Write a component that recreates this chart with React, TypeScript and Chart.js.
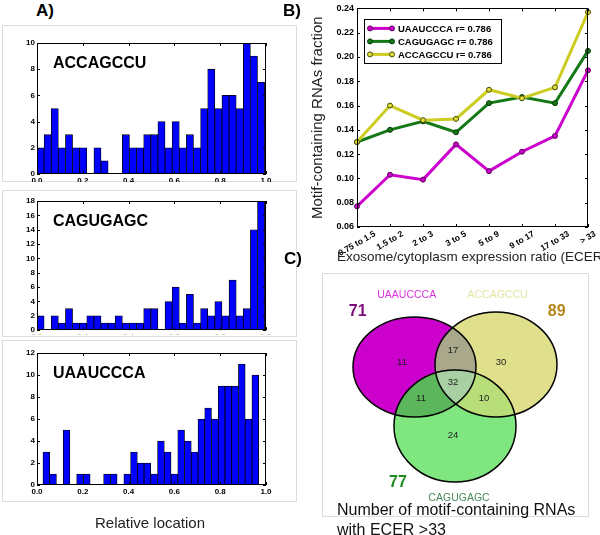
import React, { useEffect, useRef } from 'react';
import { Chart, registerables } from 'chart.js';

Chart.register(...registerables);

const FONT = '"Liberation Sans", Arial, Helvetica, sans-serif';
Chart.defaults.font.family = FONT;

// ---------------- Panel A: relative-location histograms ----------------
const histTitles = ['ACCAGCCU', 'CAGUGAGC', 'UAAUCCCA'];
const accagccuCounts = [2, 3, 5, 2, 3, 2, 2, 0, 2, 1, 0, 0, 3, 2, 2, 3, 3, 4, 2, 4, 2, 3, 2, 5, 8, 5, 6, 6, 5, 10, 9, 7];
const cagugagcCounts = [2, 0, 2, 1, 3, 1, 1, 2, 2, 1, 1, 2, 1, 1, 1, 3, 3, 0, 4, 6, 1, 5, 1, 3, 2, 4, 2, 7, 2, 3, 14, 18];
const uaaucccaCounts = [3, 1, 0, 5, 0, 1, 1, 0, 0, 1, 1, 0, 1, 3, 2, 2, 1, 4, 3, 1, 5, 4, 3, 6, 7, 6, 9, 9, 9, 11, 6, 10];
const accagccuBinRange = [0.0, 0.994];
const cagugagcBinRange = [0.0, 0.994];
const uaaucccaBinRange = [0.026, 0.968];
const histYMax = [10, 18, 12];
const histYStep = 2;
const relLocationRange = [0, 1];
const relLocationStep = 0.2;

// ---------------- Panel B: motif fraction vs ECER ----------------
const ecerCategories = ['0.75 to 1.5', '1.5 to 2', '2 to 3', '3 to 5', '5 to 9', '9 to 17', '17 to 33', '> 33'];
const seriesNames = ['UAAUCCCA', 'CAGUGAGC', 'ACCAGCCU'];
const uaaucccaFraction = [0.077, 0.103, 0.099, 0.128, 0.106, 0.122, 0.135, 0.189];
const cagugagcFraction = [0.130, 0.140, 0.147, 0.138, 0.162, 0.167, 0.162, 0.205];
const accagccuFraction = [0.130, 0.160, 0.148, 0.149, 0.173, 0.166, 0.175, 0.237];
const correlationR = ['0.786', '0.786', '0.786'];
const fractionRange = [0.06, 0.24];
const fractionStep = 0.02;
const xAxisTitle = 'Exosome/cytoplasm expression ratio (ECER)';
const yAxisTitle = 'Motif-containing RNAs fraction';

// ---------------- Panel C: Venn diagram ----------------
const vennSetNames = ['UAAUCCCA', 'ACCAGCCU', 'CAGUGAGC'];
const vennSetTotals = [71, 89, 77];
// regions: M only, Y only, G only, M&Y, M&G, Y&G, M&Y&G
const vennRegionCounts = [11, 30, 24, 17, 11, 10, 32];

// ---------------- styles / layout ----------------
const lineStyles = [
  { color: '#cc00cc', point: '#cc00cc', edge: '#5a005a' },
  { color: '#157a15', point: '#157a15', edge: '#083808' },
  { color: '#cccc22', point: '#dede3a', edge: '#4a4a00' },
];
const vennEllipses = [
  { cx: 92.5, cy: 94, rx: 61.5, ry: 50 },
  { cx: 174, cy: 91.5, rx: 61, ry: 52.5 },
  { cx: 133, cy: 153, rx: 61, ry: 56 },
];
const vennFill = { m: '#cc00cc', y: '#e0df8c', g: '#80e680', my: '#aaa88a', mg: '#5cb65c', yg: '#b8de7a', myg: '#a8d0a2' };
const vennRegionPos = [[80, 89], [179, 89], [131, 162], [131, 77], [99, 125], [162, 125], [131, 109]];
const vennNamePos = [[84.7, 22], [175.5, 22], [137, 225]];
const vennNameColors = ['#dd33dd', '#e4e4a4', '#4a8a5a'];
const vennTotalPos = [[35.7, 39], [234.7, 39], [76, 210]];
const vennTotalColors = ['#7d0b7d', '#b5861c', '#1f8a1f'];
const vennCaption = ['Number of motif-containing RNAs', 'with ECER >33'];

// frame with inward ticks
const framePlugin = {
  id: 'frameTicks',
  afterDatasetsDraw(chart: any) {
    const { ctx, chartArea: a, scales } = chart;
    const xs = scales.x, ys = scales.y;
    ctx.save();
    ctx.strokeStyle = '#000';
    ctx.lineWidth = 1;
    ctx.strokeRect(Math.round(a.left) + 0.5, Math.round(a.top) + 0.5, Math.round(a.right - a.left) - 1, Math.round(a.bottom - a.top) - 1);
    ctx.beginPath();
    const tl = 3;
    xs.ticks.forEach((_: any, i: number) => {
      const px = Math.round(xs.getPixelForTick(i)) + 0.5;
      ctx.moveTo(px, a.bottom); ctx.lineTo(px, a.bottom - tl);
      ctx.moveTo(px, a.top); ctx.lineTo(px, a.top + tl);
    });
    ys.ticks.forEach((_: any, i: number) => {
      const py = Math.round(ys.getPixelForTick(i)) + 0.5;
      ctx.moveTo(a.left, py); ctx.lineTo(a.left + tl, py);
      ctx.moveTo(a.right, py); ctx.lineTo(a.right - tl, py);
    });
    ctx.stroke();
    ctx.restore();
  },
};

function ChartCanvas({ left, top, width, height, build }: any) {
  const ref = useRef<HTMLCanvasElement>(null);
  useEffect(() => {
    const chart = new Chart(ref.current as HTMLCanvasElement, build());
    return () => chart.destroy();
  }, []);
  return (
    <canvas
      ref={ref}
      width={width}
      height={height}
      style={{ position: 'absolute', left, top, width, height, display: 'block' }}
    />
  );
}

const PLOT_LEFT = 37;
const PLOT_RIGHT = 266;

function histConfig(counts: number[], range: number[], yMax: number, title: string, box: any, area: any) {
  const w = (range[1] - range[0]) / counts.length;
  const titlePlugin = {
    id: 'histTitle',
    afterDraw(chart: any) {
      const { ctx, chartArea: a } = chart;
      ctx.save();
      ctx.font = `bold 16px ${FONT}`;
      ctx.fillStyle = '#000';
      ctx.textBaseline = 'alphabetic';
      ctx.fillText(title, a.left + 16, a.top + 25);
      ctx.restore();
    },
  };
  return {
    type: 'bar',
    data: {
      datasets: [
        {
          data: counts.map((c, i) => ({ x: range[0] + (i + 0.5) * w, y: c })),
          backgroundColor: '#0000ff',
          borderColor: '#000000',
          borderWidth: 0.8,
          barPercentage: 1,
          categoryPercentage: 1,
          borderSkipped: 'start',
        },
      ],
    },
    options: {
      responsive: false,
      animation: false,
      events: [],
      layout: { padding: { left: 0, top: area.top - box.top, right: box.left + box.width - PLOT_RIGHT, bottom: 0 } },
      plugins: { legend: { display: false }, tooltip: { enabled: false } },
      scales: {
        x: {
          type: 'linear',
          min: relLocationRange[0],
          max: relLocationRange[1],
          offset: false,
          grid: { display: false, drawTicks: false, offset: false },
          border: { display: false },
          ticks: {
            stepSize: relLocationStep,
            autoSkip: false,
            maxRotation: 0,
            padding: 2,
            color: '#000',
            font: { size: 8, weight: 'bold' },
            callback: (v: number) => v.toFixed(1),
          },
          afterFit: (s: any) => { s.height = box.top + box.height - area.bottom; },
        },
        y: {
          min: 0,
          max: yMax,
          grid: { display: false, drawTicks: false },
          border: { display: false },
          ticks: { stepSize: histYStep, padding: 2, color: '#000', font: { size: 8, weight: 'bold' } },
          afterFit: (s: any) => { s.width = PLOT_LEFT - box.left; },
        },
      },
    },
    plugins: [framePlugin, titlePlugin],
  };
}

function lineConfig() {
  const series = [uaaucccaFraction, cagugagcFraction, accagccuFraction];
  const drawOrder = [2, 1, 0];
  const legendPlugin = {
    id: 'boxLegend',
    afterDatasetsDraw(chart: any) {
      const { ctx, chartArea: a } = chart;
      const bx = a.left + 7, by = a.top + 11, bw = 137, bh = 44;
      ctx.save();
      ctx.fillStyle = '#fff';
      ctx.fillRect(bx, by, bw, bh);
      ctx.strokeStyle = '#000';
      ctx.lineWidth = 1;
      ctx.strokeRect(Math.round(bx) + 0.5, Math.round(by) + 0.5, bw, bh);
      seriesNames.forEach((name, i) => {
        const y = by + 9 + i * 13;
        const x0 = bx + 6, x1 = bx + 28;
        const st = lineStyles[i];
        ctx.strokeStyle = st.color;
        ctx.lineWidth = 3;
        ctx.beginPath(); ctx.moveTo(x0, y); ctx.lineTo(x1, y); ctx.stroke();
        [x0, x1].forEach((px) => {
          ctx.beginPath(); ctx.arc(px, y, 2.5, 0, Math.PI * 2);
          ctx.fillStyle = st.point; ctx.fill();
          ctx.lineWidth = 1; ctx.strokeStyle = st.edge; ctx.stroke();
        });
        ctx.fillStyle = '#000';
        ctx.font = `bold 9.5px ${FONT}`;
        ctx.textBaseline = 'middle';
        ctx.fillText(`${name} r= ${correlationR[i]}`, x1 + 6, y + 0.5);
      });
      ctx.restore();
    },
  };
  const xLabelPlugin = {
    id: 'rotLabels',
    afterDraw(chart: any) {
      const { ctx, chartArea: a, scales } = chart;
      const th = (30 * Math.PI) / 180;
      ctx.save();
      ctx.font = `bold 8.5px ${FONT}`;
      ctx.fillStyle = '#000';
      ctx.textAlign = 'center';
      ctx.textBaseline = 'middle';
      ecerCategories.forEach((lab, i) => {
        const px = scales.x.getPixelForValue(i);
        const w = ctx.measureText(lab).width;
        const cy = a.bottom + 3 + (w * Math.sin(th) + 8 * Math.cos(th)) / 2;
        ctx.save();
        ctx.translate(px, cy);
        ctx.rotate(-th);
        ctx.fillText(lab, 0, 0);
        ctx.restore();
      });
      // x-axis title (not squeezed to the axis width; runs off the right edge)
      ctx.font = `13.5px ${FONT}`;
      ctx.fillStyle = '#222';
      ctx.textAlign = 'left';
      ctx.textBaseline = 'middle';
      ctx.fillText(xAxisTitle, a.left - 20, a.bottom + 30);
      ctx.restore();
    },
  };
  return {
    type: 'line',
    data: {
      labels: ecerCategories,
      datasets: series.map((d, i) => ({
        label: seriesNames[i],
        data: d,
        order: drawOrder[i],
        borderColor: lineStyles[i].color,
        backgroundColor: lineStyles[i].point,
        pointBackgroundColor: lineStyles[i].point,
        pointBorderColor: lineStyles[i].edge,
        pointBorderWidth: 1,
        pointRadius: 2.5,
        borderWidth: 3,
        tension: 0,
        fill: false,
        clip: false,
      })),
    },
    options: {
      responsive: false,
      animation: false,
      events: [],
      layout: { padding: { left: 15, top: 7, right: 12, bottom: 0 } },
      plugins: { legend: { display: false }, tooltip: { enabled: false } },
      scales: {
        x: {
          type: 'category',
          offset: false,
          grid: { display: false, drawTicks: false },
          border: { display: false },
          ticks: { display: false },
          title: { display: false },
          afterFit: (s: any) => { s.height = 43; },
        },
        y: {
          min: fractionRange[0],
          max: fractionRange[1],
          grid: { display: false, drawTicks: false },
          border: { display: false },
          ticks: {
            stepSize: fractionStep,
            padding: 3,
            color: '#000',
            font: { size: 9, weight: 'bold' },
            callback: (v: number) => v.toFixed(2),
          },
          title: {
            display: true,
            text: yAxisTitle,
            color: '#222',
            font: { size: 15 },
          },
          afterFit: (s: any) => { s.width = 52; },
        },
      },
    },
    plugins: [framePlugin, legendPlugin, xLabelPlugin],
  };
}

function vennConfig() {
  const vennPlugin = {
    id: 'venn',
    beforeDatasetsDraw(chart: any) {
      const { ctx, scales } = chart;
      const xs = scales.x, ys = scales.y;
      const P = (x: number, y: number) => [xs.getPixelForValue(x), ys.getPixelForValue(y)];
      const E = vennEllipses.map((e) => {
        const [cx, cy] = P(e.cx, e.cy);
        const [ex, ey] = P(e.cx + e.rx, e.cy + e.ry);
        return { cx, cy, rx: Math.abs(ex - cx), ry: Math.abs(ey - cy) };
      });
      const path = (e: any) => { ctx.beginPath(); ctx.ellipse(e.cx, e.cy, e.rx, e.ry, 0, 0, Math.PI * 2); };
      const singles = [vennFill.m, vennFill.y, vennFill.g];
      E.forEach((e, i) => { ctx.save(); path(e); ctx.fillStyle = singles[i]; ctx.fill(); ctx.restore(); });
      const inter = (idx: number[], color: string) => {
        ctx.save();
        idx.forEach((i) => { path(E[i]); ctx.clip(); });
        ctx.fillStyle = color;
        ctx.fillRect(0, 0, chart.width, chart.height);
        ctx.restore();
      };
      inter([0, 1], vennFill.my);
      inter([0, 2], vennFill.mg);
      inter([1, 2], vennFill.yg);
      inter([0, 1, 2], vennFill.myg);
      ctx.save();
      ctx.strokeStyle = '#000';
      ctx.lineWidth = 1.5;
      E.forEach((e) => { path(e); ctx.stroke(); });
      ctx.restore();

      ctx.save();
      ctx.textAlign = 'center';
      ctx.textBaseline = 'middle';
      ctx.font = `9.5px ${FONT}`;
      ctx.fillStyle = '#222';
      vennRegionCounts.forEach((c, i) => {
        const [px, py] = P(vennRegionPos[i][0], vennRegionPos[i][1]);
        ctx.fillText(String(c), px, py);
      });
      ctx.font = `10.5px ${FONT}`;
      vennSetNames.forEach((n, i) => {
        const [px, py] = P(vennNamePos[i][0], vennNamePos[i][1]);
        ctx.fillStyle = vennNameColors[i];
        ctx.fillText(n, px, py);
      });
      ctx.font = `bold 16px ${FONT}`;
      vennSetTotals.forEach((t, i) => {
        const [px, py] = P(vennTotalPos[i][0], vennTotalPos[i][1]);
        ctx.fillStyle = vennTotalColors[i];
        ctx.fillText(String(t), px, py);
      });
      ctx.textAlign = 'left';
      ctx.font = `16px ${FONT}`;
      ctx.fillStyle = '#111';
      vennCaption.forEach((line, i) => {
        const [px, py] = P(15, 238 + i * 20);
        ctx.fillText(line, px, py);
      });
      ctx.restore();
    },
  };
  return {
    type: 'scatter',
    data: {
      datasets: [
        {
          data: vennRegionPos.map((p) => ({ x: p[0], y: p[1] })),
          pointRadius: 0,
          showLine: false,
        },
      ],
    },
    options: {
      responsive: false,
      animation: false,
      events: [],
      layout: { padding: { left: 0, top: 0, right: 12, bottom: 19 } },
      plugins: { legend: { display: false }, tooltip: { enabled: false } },
      scales: {
        x: { type: 'linear', min: 0, max: 266, display: false },
        y: { type: 'linear', min: 0, max: 243, reverse: true, display: false },
      },
    },
    plugins: [vennPlugin],
  };
}

const boxStyle = (left: number, top: number, width: number, height: number): any => ({
  position: 'absolute',
  left,
  top,
  width,
  height,
  border: '1px solid #dcdcdc',
  boxSizing: 'border-box',
});

const panelLabel = (text: string, left: number, top: number) => (
  <div
    style={{
      position: 'absolute',
      left,
      top,
      fontFamily: FONT,
      fontWeight: 'bold',
      fontSize: 17,
      lineHeight: '17px',
      color: '#000',
      whiteSpace: 'nowrap',
    }}
  >
    {text}
  </div>
);

export default function App() {
  const histBoxes = [
    { left: 2, top: 25, width: 295, height: 157 },
    { left: 2, top: 190, width: 295, height: 147 },
    { left: 2, top: 340, width: 295, height: 162 },
  ];
  const histAreas = [
    { top: 43, bottom: 174 },
    { top: 201, bottom: 333 },
    { top: 353, bottom: 485 },
  ];
  const histCounts = [accagccuCounts, cagugagcCounts, uaaucccaCounts];
  const histRanges = [accagccuBinRange, cagugagcBinRange, uaaucccaBinRange];

  return (
    <div
      style={{
        position: 'absolute',
        left: 0,
        top: 0,
        width: 600,
        height: 535,
        background: '#fff',
        overflow: 'hidden',
        fontFamily: FONT,
      }}
    >
      {histBoxes.map((b, i) => (
        <div key={'b' + i} style={boxStyle(b.left, b.top, b.width, b.height)} />
      ))}
      <div style={boxStyle(322, 273, 267, 244)} />
      {histBoxes.map((b, i) => (
        <ChartCanvas
          key={'h' + i}
          left={b.left}
          top={b.top}
          width={b.width}
          height={b.height}
          build={() => histConfig(histCounts[i], histRanges[i], histYMax[i], histTitles[i], b, histAreas[i])}
        />
      ))}
      <ChartCanvas left={290} top={0} width={310} height={270} build={lineConfig} />
      <ChartCanvas left={322} top={273} width={278} height={262} build={vennConfig} />
      {panelLabel('A)', 36, 2)}
      {panelLabel('B)', 283, 2)}
      {panelLabel('C)', 284, 250)}
      <div
        style={{
          position: 'absolute',
          left: 0,
          top: 515,
          width: 300,
          textAlign: 'center',
          fontSize: 15,
          lineHeight: '15px',
          color: '#222',
        }}
      >
        Relative location
      </div>
    </div>
  );
}
